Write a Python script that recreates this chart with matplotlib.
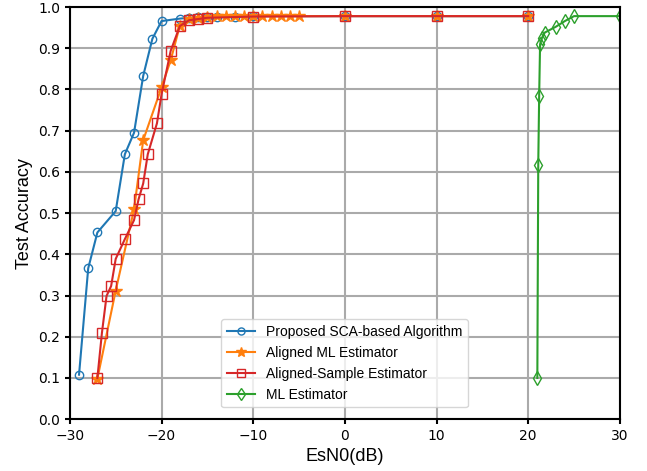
import matplotlib
matplotlib.use("Agg")
import matplotlib.pyplot as plt

# SNR sweep (dB) and accuracy for each method
snr_sca = [-29, -28, -27, -25, -24, -23, -22, -21, -20, -18, -17, -16, -15, -14, -12, -10, 0, 10, 20]
acc_sca = [0.108, 0.366, 0.453, 0.505, 0.643, 0.695, 0.833, 0.923, 0.966, 0.972, 0.974, 0.975,
           0.976, 0.977, 0.977, 0.978, 0.978, 0.978, 0.978]

snr_aml = [-27, -25, -23, -22, -20, -19, -18, -17, -16, -15, -14, -13, -12, -11, -10, -9, -8, -7, -6, -5,
           0, 10, 20]
acc_aml = [0.098, 0.312, 0.509, 0.677, 0.805, 0.871, 0.955, 0.970, 0.974, 0.976, 0.978, 0.978,
           0.978, 0.978, 0.978, 0.978, 0.978, 0.978, 0.978, 0.978, 0.978, 0.978, 0.978]

snr_as = [-27, -26.5, -26, -25.5, -25, -24, -23, -22.5, -22, -21.5, -20.5, -20, -19, -18, -17,
          -16, -15, -10, 0, 10, 20]
acc_as = [0.100, 0.210, 0.299, 0.323, 0.389, 0.437, 0.483, 0.534, 0.572, 0.643, 0.718, 0.788,
          0.894, 0.954, 0.968, 0.971, 0.974, 0.977, 0.978, 0.978, 0.978]

snr_ml = [21, 21.1, 21.2, 21.3, 21.5, 21.8, 23, 24, 25, 30]
acc_ml = [0.100, 0.617, 0.785, 0.910, 0.925, 0.938, 0.952, 0.966, 0.978, 0.978]

fig = plt.figure(figsize=(6.47, 4.71), dpi=100)
ax = fig.add_axes([0.108, 0.110, 0.850, 0.875])

ax.plot(snr_sca, acc_sca, color="tab:blue", marker="o", mfc="none", ms=6, lw=1.5,
        label="Proposed SCA-based Algorithm")
ax.plot(snr_aml, acc_aml, color="tab:orange", marker="*", ms=9, lw=1.5,
        label="Aligned ML Estimator")
ax.plot(snr_as, acc_as, color="tab:red", marker="s", mfc="none", ms=6.5, lw=1.5,
        label="Aligned-Sample Estimator")
ax.plot(snr_ml, acc_ml, color="tab:green", marker="d", mfc="none", ms=7, lw=1.5,
        label="ML Estimator")

ax.set_xlim(-30, 30)
ax.set_ylim(0, 1.0)
ax.set_xticks(range(-30, 31, 10))
ax.set_yticks([i / 10 for i in range(11)])
ax.grid(True, color="#aaaaaa", lw=1.5)
ax.set_axisbelow(True)
for s in ax.spines.values():
    s.set_linewidth(1.5)
ax.tick_params(labelsize=10, width=1.5)

ax.set_xlabel("EsN0(dB)", fontsize=13, family="Liberation Sans")
ax.set_ylabel("Test Accuracy", fontsize=13, family="Liberation Sans")

ax.legend(loc="lower left", bbox_to_anchor=(0.263, 0.012), markerscale=0.85,
          prop={"family": "Liberation Sans", "size": 10})

fig.savefig("out.png", dpi=100)
